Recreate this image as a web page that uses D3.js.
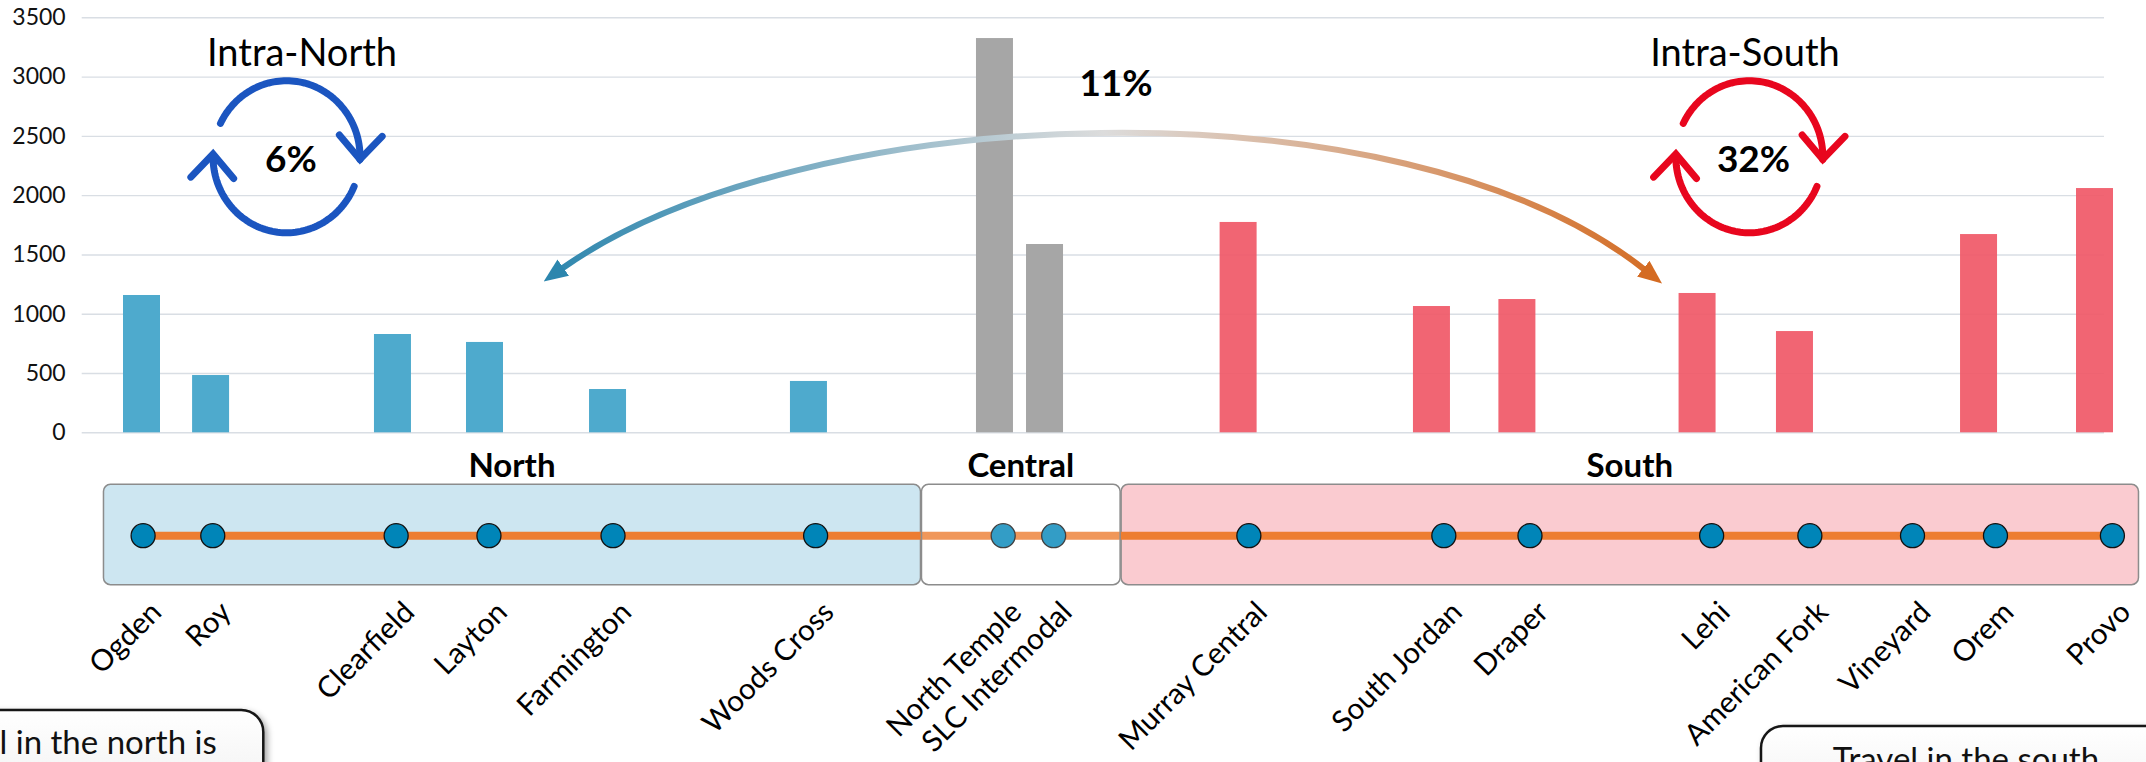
<!DOCTYPE html>
<html>
<head>
<meta charset="utf-8">
<script src="https://cdn.jsdelivr.net/npm/d3@7"></script>
<style>
  html, body { margin: 0; padding: 0; background: #fff; overflow: hidden; }
  svg { display: block; font-family: Lato, "Open Sans", "Noto Sans", sans-serif; }
</style>
</head>
<body>
<svg id="chart" width="2146" height="762"></svg>
<script>
// ---- data ----
const stations = ["Ogden", "Roy", "Clearfield", "Layton", "Farmington", "Woods Cross",
  "North Temple", "SLC Intermodal", "Murray Central", "South Jordan", "Draper",
  "Lehi", "American Fork", "Vineyard", "Orem", "Provo"];
const stationZone = ["North", "North", "North", "North", "North", "North",
  "Central", "Central", "South", "South", "South",
  "South", "South", "South", "South", "South"];
// average boardings per station (Vineyard has no count)
const boardings = [1158, 483, 829, 762, 365, 433, 3325, 1588, 1774, 1065, 1124,
  1175, 854, null, 1672, 2060];
// distance along the corridor from Ogden
const milepost = [0, 2.83, 10.28, 14.05, 19.09, 27.32, 34.94, 36.99, 44.92, 52.84, 56.34,
  63.72, 67.71, 71.88, 75.25, 80];
const zoneNames = ["North", "Central", "South"];
const zoneBounds = [-1.63, 31.6, 39.71, 81.08];
const yTicks = [0, 500, 1000, 1500, 2000, 2500, 3000, 3500];
const flowNames = ["Intra-North", "Intra-South"];
const flowShares = ["6%", "11%", "32%"]; // intra-north, north<->south, intra-south
const calloutTexts = ["Travel in the north is", "Travel in the south"];

// ---- layout ----
const svg = d3.select("#chart");
const plotLeft = 81.7, plotRight = 2104;
const x = d3.scaleLinear().domain([0, 80]).range([141.5, 2094.5]);
const xs = d3.scaleLinear().domain([0, 80]).range([143.1, 2112.4]); // station strip
const y = d3.scaleLinear().domain([0, 3500]).range([432.3, 17.3]);

const zoneColor = { North: "#4EAACD", Central: "#A6A6A6", South: "#F05867" };
const zoneOpacity = { North: 1, Central: 1, South: 0.92 };

const defs = svg.append("defs");

// ---- gridlines + y axis ----
const axis = svg.append("g")
  .attr("transform", `translate(${plotLeft},0)`)
  .call(d3.axisLeft(y).tickValues(yTicks).tickFormat(d3.format("d"))
    .tickSize(-(plotRight - plotLeft)).tickPadding(16));
axis.select(".domain").remove();
axis.selectAll(".tick line").attr("stroke", "#D9DEE4").attr("stroke-width", 1.4);
axis.selectAll(".tick text")
  .attr("font-family", "Lato, 'Open Sans', sans-serif")
  .attr("font-size", 23).attr("fill", "#111");

// ---- bars ----
const barW = 37;
const barData = stations.map((s, i) => ({ s, z: stationZone[i], v: boardings[i], m: milepost[i] }))
  .filter(d => d.v != null);
svg.append("g").selectAll("rect").data(barData).join("rect")
  .attr("x", d => x(d.m) - barW / 2)
  .attr("width", barW)
  .attr("y", d => y(d.v))
  .attr("height", d => y(0) - y(d.v))
  .attr("fill", d => zoneColor[d.z])
  .attr("fill-opacity", d => zoneOpacity[d.z]);

// ---- cross-region flow arrow (north <-> south) ----
const grad = defs.append("linearGradient").attr("id", "flowGrad")
  .attr("gradientUnits", "userSpaceOnUse")
  .attr("x1", x(16.5)).attr("x2", x(62.3)).attr("y1", 0).attr("y2", 0);
grad.append("stop").attr("offset", 0).attr("stop-color", "#2C86AE");
grad.append("stop").attr("offset", 0.5).attr("stop-color", "#DCDCDC");
grad.append("stop").attr("offset", 1).attr("stop-color", "#D46B22");

function marker(id, color) {
  defs.append("marker").attr("id", id)
    .attr("markerUnits", "userSpaceOnUse")
    .attr("viewBox", "0 0 24 20")
    .attr("markerWidth", 24).attr("markerHeight", 20)
    .attr("refX", 2).attr("refY", 10)
    .attr("orient", "auto-start-reverse")
    .append("path").attr("d", "M0,0 L24,10 L0,20 Z").attr("fill", color);
}
marker("headL", "#2C86AE");
marker("headR", "#D46B22");

const flowPts = [[17.21, 1379], [26.97, 2803], [51.55, 3014], [61.58, 1370]]
  .map(([m, v]) => [x(m), y(v)]);
const p = d3.path();
p.moveTo(...flowPts[0]);
p.bezierCurveTo(...flowPts[1], ...flowPts[2], ...flowPts[3]);
svg.append("path").attr("d", p.toString())
  .attr("fill", "none").attr("stroke", "url(#flowGrad)").attr("stroke-width", 6)
  .attr("marker-start", "url(#headL)").attr("marker-end", "url(#headR)");

svg.append("text").attr("x", 1116).attr("y", 96)
  .attr("text-anchor", "middle").attr("font-size", 37).attr("font-weight", 700)
  .text(flowShares[1]);

// ---- intra-region cycle arrows ----
function cycle(cx, cy, color, title, share, titleDx, shareDx) {
  const g = svg.append("g");
  const rx = 73.5, ry = 76, rad = Math.PI / 180;
  const pt = a => [cx + rx * Math.cos(a * rad), cy + ry * Math.sin(a * rad)];
  [[206, 362], [23, 182]].forEach(([a0, a1]) => {
    const pts = d3.range(a0, a1 + 0.001, 2).map(pt);
    g.append("path").attr("d", d3.line()(pts))
      .attr("fill", "none").attr("stroke", color).attr("stroke-width", 7)
      .attr("stroke-linecap", "round").attr("stroke-linejoin", "round");
    const t = a1 * rad;
    let dx = -rx * Math.sin(t), dy = ry * Math.cos(t);
    const len = Math.hypot(dx, dy); dx /= len; dy /= len;
    const tip = pt(a1);
    const arm = s => {
      const a = s * 42 * rad;
      const bx = -dx, by = -dy;
      return [tip[0] + 32 * (bx * Math.cos(a) - by * Math.sin(a)),
              tip[1] + 32 * (bx * Math.sin(a) + by * Math.cos(a))];
    };
    g.append("path").attr("d", d3.line()([arm(1), tip, arm(-1)]))
      .attr("fill", "none").attr("stroke", color).attr("stroke-width", 7)
      .attr("stroke-linecap", "round").attr("stroke-linejoin", "miter");
  });
  g.append("text").attr("x", cx + titleDx).attr("y", 66)
    .attr("text-anchor", "middle").attr("font-size", 38).attr("fill", "#000").text(title);
  g.append("text").attr("x", cx + shareDx).attr("y", 171.7)
    .attr("text-anchor", "middle").attr("font-size", 37).attr("font-weight", 700)
    .attr("fill", "#000").text(share);
}
cycle(x(5.94), y(2324), "#1B55C0", flowNames[0], flowShares[0], 15.5, 4.5);
cycle(x(65.86), y(2324), "#E8061E", flowNames[1], flowShares[2], -4.3, 4.2);

// ---- station strip ----
const stripTop = 484.3, stripH = 100.4, lineY = 535.7;
const zoneFill = { North: "#CDE6F1", South: "#FACBD0" };
const zoneData = zoneNames.map((z, i) => ({ z, x0: xs(zoneBounds[i]), x1: xs(zoneBounds[i + 1]) }));

svg.append("g").selectAll("rect").data(zoneData.filter(d => d.z !== "Central")).join("rect")
  .attr("x", d => d.x0 + 0.5).attr("width", d => d.x1 - d.x0 - 1)
  .attr("y", stripTop).attr("height", stripH).attr("rx", 7)
  .attr("fill", d => zoneFill[d.z]).attr("stroke", "#8C8C8C").attr("stroke-width", 1.5);

svg.append("line")
  .attr("x1", xs(milepost[0])).attr("x2", xs(milepost[milepost.length - 1]))
  .attr("y1", lineY).attr("y2", lineY)
  .attr("stroke", "#ED7D31").attr("stroke-width", 8);

svg.append("g").selectAll("circle").data(milepost).join("circle")
  .attr("cx", d => xs(d)).attr("cy", lineY).attr("r", 12)
  .attr("fill", "#0085B8").attr("stroke", "#111").attr("stroke-width", 1.3);

// central zone is a translucent panel laid over the line
const central = zoneData.find(d => d.z === "Central");
svg.append("rect")
  .attr("x", central.x0 + 0.5).attr("width", central.x1 - central.x0 - 1)
  .attr("y", stripTop).attr("height", stripH).attr("rx", 7)
  .attr("fill", "#fff").attr("fill-opacity", 0.2)
  .attr("stroke", "#8C8C8C").attr("stroke-width", 1.5);

svg.append("g").selectAll("text").data(zoneData).join("text")
  .attr("x", d => (d.x0 + d.x1) / 2).attr("y", 477)
  .attr("text-anchor", "middle").attr("font-size", 33).attr("font-weight", 700)
  .text(d => d.z);

svg.append("g").selectAll("text").data(stations).join("text")
  .attr("transform", (d, i) => `translate(${xs(milepost[i]) + 20},614) rotate(-45)`)
  .attr("text-anchor", "end").attr("font-size", 29.5).attr("fill", "#000")
  .text(d => d);

// ---- callout boxes ----
const cg = defs.append("linearGradient").attr("id", "calloutFill")
  .attr("x1", 0).attr("x2", 0).attr("y1", 0).attr("y2", 1);
cg.append("stop").attr("offset", 0).attr("stop-color", "#FFFFFF");
cg.append("stop").attr("offset", 1).attr("stop-color", "#E9E9E9");
const sh = defs.append("filter").attr("id", "shadow")
  .attr("x", "-10%").attr("y", "-10%").attr("width", "130%").attr("height", "140%");
sh.append("feDropShadow").attr("dx", 3).attr("dy", 3).attr("stdDeviation", 3)
  .attr("flood-color", "#000").attr("flood-opacity", 0.35);

svg.append("rect").attr("x", -80).attr("y", 710).attr("width", 343.3).attr("height", 140)
  .attr("rx", 22).attr("fill", "url(#calloutFill)").attr("stroke", "#151515")
  .attr("stroke-width", 2.5).attr("filter", "url(#shadow)");
svg.append("text").attr("x", 216.7).attr("y", 754).attr("text-anchor", "end")
  .attr("font-size", 33).attr("fill", "#111").text(calloutTexts[0]);

svg.append("rect").attr("x", 1761).attr("y", 726).attr("width", 500).attr("height", 140)
  .attr("rx", 22).attr("fill", "url(#calloutFill)").attr("stroke", "#151515")
  .attr("stroke-width", 2.5).attr("filter", "url(#shadow)");
svg.append("text").attr("x", 1832.7).attr("y", 771).attr("text-anchor", "start")
  .attr("font-size", 33).attr("fill", "#111").text(calloutTexts[1]);
</script>
</body>
</html>
